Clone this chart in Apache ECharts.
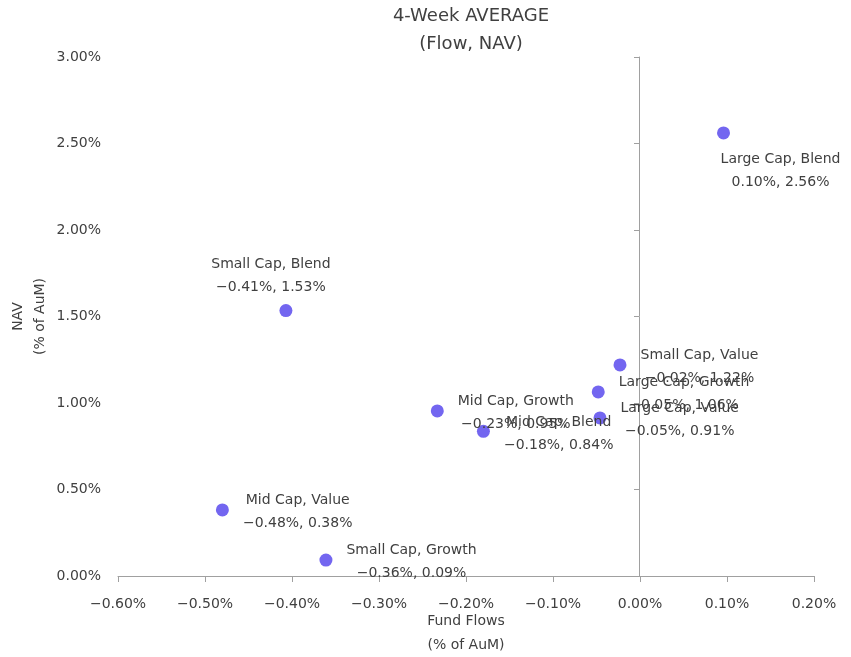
<!DOCTYPE html>
<html>
<head>
<meta charset="utf-8">
<script src="https://cdn.jsdelivr.net/npm/echarts@6/dist/echarts.min.js"></script>
<style>
  html, body { margin: 0; padding: 0; background: #fff; }
  #chart { width: 851px; height: 657px; }
</style>
</head>
<body>
<div id="chart"></div>
<script>
  // 数据
  var names = ['Large Cap, Blend', 'Small Cap, Blend', 'Small Cap, Value', 'Large Cap, Growth',
    'Large Cap, Value', 'Mid Cap, Growth', 'Mid Cap, Blend', 'Mid Cap, Value', 'Small Cap, Growth'];
  var flows = [0.096, -0.407, -0.023, -0.048, -0.046, -0.233, -0.180, -0.480, -0.361];
  var navs = [2.561, 1.534, 1.220, 1.064, 0.914, 0.954, 0.836, 0.382, 0.092];
  // 标签位置: right / top / below
  var labelPos = ['below', 'top', 'right', 'right', 'right', 'right', 'right', 'right', 'right'];

  var FONT = 'DejaVu Sans';
  var FS = 14;
  var textColor = '#404040';
  var pct = function (v) { return v.toFixed(2) + '%'; };

  var ctx = document.createElement('canvas').getContext('2d');
  ctx.font = FS + 'px "' + FONT + '"';
  var halfWidth = function (lines) {
    var w = 0;
    lines.forEach(function (s) { w = Math.max(w, ctx.measureText(s).width); });
    return w / 2;
  };

  var points = names.map(function (n, i) {
    var lines = [n, pct(flows[i]).replace('-', '\u2212') + ', ' + pct(navs[i])];
    var label;
    if (labelPos[i] === 'right') {
      label = { position: 'right', align: 'center', distance: 14, offset: [halfWidth(lines), 2] };
    } else if (labelPos[i] === 'top') {
      label = { position: 'top', distance: 5, offset: [-15, 0] };
    } else {
      label = { position: 'bottom', distance: 8, offset: [57, 0] };
    }
    label.formatter = lines.join('\n');
    return { name: n, value: [flows[i], navs[i]], label: label };
  });

  var chart = echarts.init(document.getElementById('chart'));
  chart.setOption({
    animation: false,
    textStyle: { fontFamily: FONT },
    title: {
      text: '4-Week AVERAGE\n(Flow, NAV)',
      left: 466, top: -3, textAlign: 'center',
      textStyle: { fontSize: 18, fontWeight: 'normal', color: textColor, lineHeight: 28, fontFamily: FONT }
    },
    grid: { left: 118, right: 37, top: 57, bottom: 81, outerBoundsMode: 'none', containLabel: false },
    xAxis: {
      type: 'value', min: -0.6, max: 0.2, interval: 0.1,
      name: 'Fund Flows\n(% of AuM)', nameLocation: 'middle', nameGap: 33, nameMoveOverlap: false,
      nameTextStyle: { fontSize: FS, color: textColor, lineHeight: 24 },
      axisLine: { onZero: false, lineStyle: { color: '#a0a0a0' } },
      axisTick: { show: true, length: 6, lineStyle: { color: '#a0a0a0' } },
      axisLabel: { fontSize: FS, color: textColor, margin: 21,
        formatter: function (v) { return pct(v).replace('-', '\u2212'); } },
      splitLine: { show: false }
    },
    yAxis: [{
      type: 'value', min: 0, max: 3, interval: 0.5,
      name: 'NAV\n(% of AuM)', nameLocation: 'middle', nameGap: 67, nameRotate: 90, nameMoveOverlap: false,
      nameTextStyle: { fontSize: FS, color: textColor, lineHeight: 22 },
      axisLine: { show: false },
      axisTick: { show: false },
      axisLabel: { fontSize: FS, color: textColor, margin: 17, formatter: pct },
      splitLine: { show: false }
    }, {
      type: 'value', min: 0, max: 3, interval: 0.5,
      position: 'left', offset: -521,
      axisLine: { show: true, onZero: false, lineStyle: { color: '#a0a0a0' } },
      axisTick: { show: true, length: 5, lineStyle: { color: '#a0a0a0' } },
      axisLabel: { show: false },
      splitLine: { show: false }
    }],
    series: [{
      type: 'scatter',
      symbolSize: 13,
      itemStyle: { color: '#7366f0', opacity: 1 },
      label: { show: true, fontSize: FS, color: textColor, lineHeight: 23 },
      data: points
    }]
  });
</script>
</body>
</html>
